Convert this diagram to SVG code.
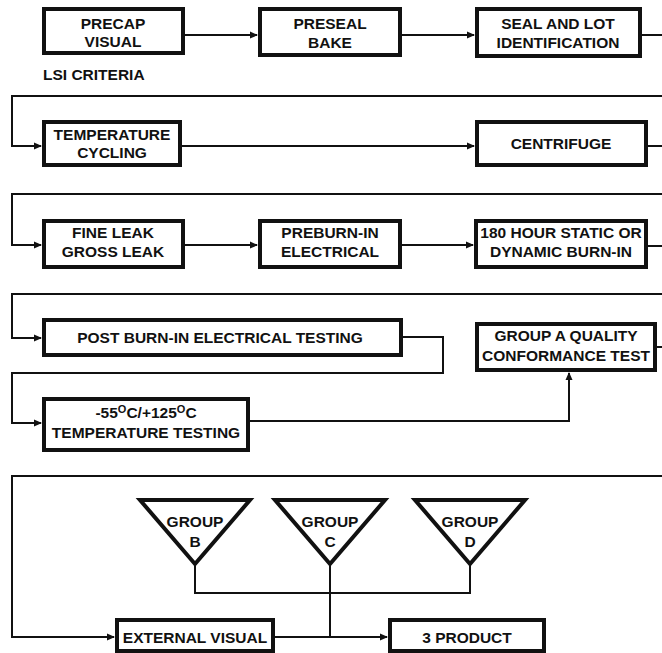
<svg xmlns="http://www.w3.org/2000/svg" width="662" height="653" viewBox="0 0 662 653">
<style>
.box{fill:#fff;stroke:#111;stroke-width:4}
.tri{fill:#fff;stroke:#111;stroke-width:4;stroke-linejoin:miter}
.ln{fill:none;stroke:#111;stroke-width:2}
text{font-family:"Liberation Sans",Arial,sans-serif;font-weight:bold;font-size:15.5px;fill:#111;text-anchor:middle}
</style>
<defs>
<marker id="ah" markerWidth="8" markerHeight="8" refX="7" refY="4" orient="auto" markerUnits="userSpaceOnUse">
<path d="M0,0.5 L8,4 L0,7.5 Z" fill="#111"/>
</marker>
</defs>
<rect width="662" height="653" fill="#fff"/>
<g id="connectors">
<path class="ln" d="M185,35 H257" marker-end="url(#ah)"/>
<path class="ln" d="M402,35 H474" marker-end="url(#ah)"/>
<path class="ln" d="M642,35 H662"/>
<path class="ln" d="M662,96 H12 V146 H41" marker-end="url(#ah)"/>
<path class="ln" d="M182,146 H474" marker-end="url(#ah)"/>
<path class="ln" d="M648,146 H662"/>
<path class="ln" d="M662,194 H12 V245 H41" marker-end="url(#ah)"/>
<path class="ln" d="M185,245 H257" marker-end="url(#ah)"/>
<path class="ln" d="M402,245 H473" marker-end="url(#ah)"/>
<path class="ln" d="M648,246 H662"/>
<path class="ln" d="M662,294 H12 V338 H41" marker-end="url(#ah)"/>
<path class="ln" d="M403,337 H443 V373 H12 V423 H41" marker-end="url(#ah)"/>
<path class="ln" d="M250,421 H569 V373" marker-end="url(#ah)"/>
<path class="ln" d="M657,347 H662"/>
<path class="ln" d="M662,476 H12 V637 H114" marker-end="url(#ah)"/>
<path class="ln" d="M275,637 H387" marker-end="url(#ah)"/>
<path class="ln" d="M195,563 V593 H470 V563"/>
<path class="ln" d="M330,563 V637"/>
</g>
<g id="precap"><rect class="box" x="44" y="9" width="139" height="44"/><text x="113" y="29">PRECAP</text><text x="113" y="47">VISUAL</text></g>
<g id="lsi"><text x="43" y="80" style="text-anchor:start">LSI CRITERIA</text></g>
<g id="preseal"><rect class="box" x="260" y="9" width="140" height="46"/><text x="330" y="29">PRESEAL</text><text x="330" y="48">BAKE</text></g>
<g id="seal"><rect class="box" x="477" y="9" width="163" height="47"/><text x="558" y="29">SEAL AND LOT</text><text x="558" y="48">IDENTIFICATION</text></g>
<g id="tempcyc"><rect class="box" x="44" y="122" width="136" height="43"/><text x="112" y="140">TEMPERATURE</text><text x="112" y="158">CYCLING</text></g>
<g id="centrifuge"><rect class="box" x="477" y="122" width="169" height="43"/><text x="561" y="149">CENTRIFUGE</text></g>
<g id="fineleak"><rect class="box" x="44" y="221" width="139" height="46"/><text x="113" y="238">FINE LEAK</text><text x="113" y="257">GROSS LEAK</text></g>
<g id="preburn"><rect class="box" x="260" y="221" width="140" height="46"/><text x="330" y="238">PREBURN-IN</text><text x="330" y="257">ELECTRICAL</text></g>
<g id="burnin"><rect class="box" x="476" y="221" width="170" height="46"/><text x="561" y="238">180 HOUR STATIC OR</text><text x="561" y="257">DYNAMIC BURN-IN</text></g>
<g id="postburn"><rect class="box" x="44" y="320" width="357" height="35"/><text x="220" y="343">POST BURN-IN ELECTRICAL TESTING</text></g>
<g id="groupa"><rect class="box" x="477" y="324" width="178" height="46"/><text x="566" y="341">GROUP A QUALITY</text><text x="566" y="361">CONFORMANCE TEST</text></g>
<g id="temptest"><rect class="box" x="44" y="399" width="204" height="51"/><text x="146" y="418">-55<tspan dy="-5" font-size="11">O</tspan><tspan dy="5">C/+125</tspan><tspan dy="-5" font-size="11">O</tspan><tspan dy="5">C</tspan></text><text x="146" y="438">TEMPERATURE TESTING</text></g>
<g id="groupb"><polygon class="tri" points="140,500 250,500 195,564"/><text x="195" y="527">GROUP</text><text x="195" y="547">B</text></g>
<g id="groupc"><polygon class="tri" points="275,500 385,500 330,564"/><text x="330" y="527">GROUP</text><text x="330" y="547">C</text></g>
<g id="groupd"><polygon class="tri" points="415,500 525,500 470,564"/><text x="470" y="527">GROUP</text><text x="470" y="547">D</text></g>
<g id="extvisual"><rect class="box" x="117" y="620" width="156" height="31"/><text x="195" y="643">EXTERNAL VISUAL</text></g>
<g id="product"><rect class="box" x="390" y="620" width="154" height="31"/><text x="467" y="643">3 PRODUCT</text></g>
</svg>
